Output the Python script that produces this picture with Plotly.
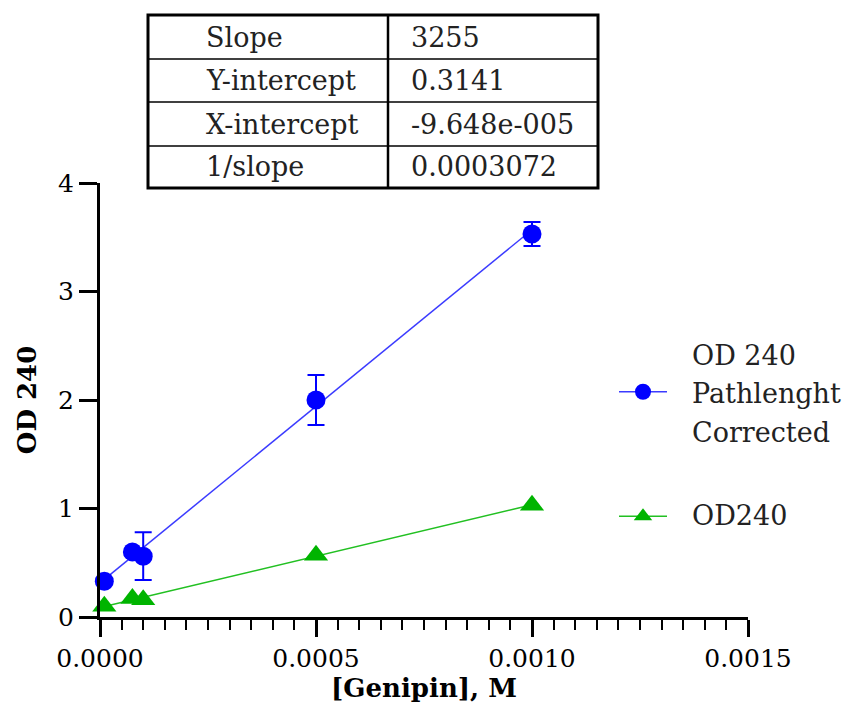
import numpy as np
import plotly.graph_objects as go

# Genipin concentration (M) and absorbance readings
genipin_m = [0.00001, 0.000075, 0.0001, 0.0005, 0.001]
od240_corrected = [0.33, 0.60, 0.56, 2.00, 3.53]
od240_corrected_sd = [0.0, 0.0, 0.22, 0.23, 0.11]
od240_raw = [0.10, 0.17, 0.16, 0.57, 1.03]

# Linear-regression summary for the pathlength-corrected series
fit_labels = ["Slope", "Y-intercept", "X-intercept", "1/slope"]
fit_values = ["3255", "0.3141", "-9.648e-005", "0.0003072"]
fit_slope = 3255
fit_intercept = 0.3141

# series names, one list entry per printed line
series_names = [["OD 240", "Pathlenght", "Corrected"], ["OD240"]]

FONT = "DejaVu Serif"
BLUE = "#0000ff"
BLUE_LINE = "#3b3bff"
GREEN = "#00b400"
GREEN_LINE = "#22c022"

# plot-area geometry in pixels (used to place the stats box / key in paper units)
W, H = 847, 726
L, R, T, B = 100, 748, 183, 617


def px(x):
    return (x - L) / (R - L)


def py(y):
    return (B - y) / (B - T)


x_fit = np.array([min(genipin_m), max(genipin_m)])
y_fit_blue = fit_intercept + fit_slope * x_fit
g_slope, g_int = np.polyfit(genipin_m, od240_raw, 1)
y_fit_green = g_int + g_slope * x_fit

fig = go.Figure()

# regression lines
fig.add_trace(go.Scatter(x=x_fit, y=y_fit_blue, mode="lines",
                         line=dict(color=BLUE_LINE, width=1.5),
                         showlegend=False, hoverinfo="skip", cliponaxis=False))
fig.add_trace(go.Scatter(x=x_fit, y=y_fit_green, mode="lines",
                         line=dict(color=GREEN_LINE, width=1.5),
                         showlegend=False, hoverinfo="skip", cliponaxis=False))

# data points
fig.add_trace(go.Scatter(
    x=genipin_m, y=od240_corrected, mode="markers", showlegend=False,
    name=" ".join(series_names[0]),
    marker=dict(symbol="circle", size=19, color=BLUE),
    error_y=dict(type="data", array=od240_corrected_sd, visible=True,
                 color=BLUE, thickness=2, width=8.5),
    cliponaxis=False,
))
fig.add_trace(go.Scatter(
    x=genipin_m, y=od240_raw, mode="markers", showlegend=False,
    name=" ".join(series_names[1]),
    marker=dict(symbol="triangle-up", size=21, color=GREEN),
    cliponaxis=False,
))

# legend glyphs (line + marker); the labels are set as text beside them
fig.add_trace(go.Scatter(
    x=[None], y=[None], mode="lines+markers", name=" ",
    legendgroup="a", line=dict(color=BLUE_LINE, width=1.5),
    marker=dict(symbol="circle", size=19, color=BLUE),
))
fig.add_trace(go.Scatter(
    x=[None], y=[None], mode="lines+markers", name=" ",
    legendgroup="b", line=dict(color=GREEN_LINE, width=1.5),
    marker=dict(symbol="triangle-up", size=21, color=GREEN),
))

# stats box
shapes = [
    dict(type="rect", xref="paper", yref="paper",
         x0=px(148), x1=px(598), y0=py(188), y1=py(15),
         line=dict(color="black", width=3)),
    dict(type="line", xref="paper", yref="paper",
         x0=px(388), x1=px(388), y0=py(188), y1=py(15),
         line=dict(color="black", width=2.5)),
]
row_edges = [15, 59, 102, 146, 188]
for yy in row_edges[1:-1]:
    shapes.append(dict(type="line", xref="paper", yref="paper",
                       x0=px(148), x1=px(598), y0=py(yy), y1=py(yy),
                       line=dict(color="black", width=1.5)))

annotations = []
for i, (lab, val) in enumerate(zip(fit_labels, fit_values)):
    yc = (row_edges[i] + row_edges[i + 1]) / 2
    annotations.append(dict(x=px(204), y=py(yc), xref="paper", yref="paper",
                            text=lab, showarrow=False, xanchor="left",
                            yanchor="middle",
                            font=dict(family=FONT, size=27, color="#222")))
    annotations.append(dict(x=px(409), y=py(yc), xref="paper", yref="paper",
                            text=val, showarrow=False, xanchor="left",
                            yanchor="middle",
                            font=dict(family=FONT, size=27, color="#222")))

# key labels, one line each
key_lines = series_names[0] + series_names[1]
key_rows = [355, 393, 432, 515]
for text, yy in zip(key_lines, key_rows):
    annotations.append(dict(x=px(690), y=py(yy), xref="paper", yref="paper",
                            text=text, showarrow=False, xanchor="left",
                            yanchor="middle",
                            font=dict(family=FONT, size=27, color="#222")))

fig.update_layout(
    width=W, height=H,
    margin=dict(l=L, r=W - R, t=T, b=H - B, pad=0),
    plot_bgcolor="white", paper_bgcolor="white",
    font=dict(family=FONT, size=25, color="black"),
    shapes=shapes, annotations=annotations,
    legend=dict(x=px(614), y=py(369), xanchor="left", yanchor="top",
                font=dict(family=FONT, size=25, color="#222"),
                traceorder="grouped", tracegroupgap=89,
                bgcolor="rgba(0,0,0,0)", itemwidth=48),
)

fig.update_xaxes(
    range=[0, 0.0015], dtick=0.0005, tickformat=".4f",
    showline=True, linecolor="black", linewidth=3,
    ticks="outside", ticklen=17, tickwidth=3, tickcolor="black",
    minor=dict(dtick=0.00005, ticks="outside", ticklen=10, tickwidth=2,
               tickcolor="black"),
    showgrid=False, zeroline=False,
    tickfont=dict(family=FONT, size=25, color="black"),
    title=dict(text="<b>[Genipin], M</b>", standoff=6,
               font=dict(family=FONT, size=26, color="black")),
)
fig.update_yaxes(
    range=[0, 4], dtick=1,
    showline=True, linecolor="black", linewidth=3,
    ticks="outside", ticklen=18, tickwidth=3, tickcolor="black",
    showgrid=False, zeroline=False,
    tickfont=dict(family=FONT, size=25, color="black"),
    title=dict(text="<b>OD 240</b>", standoff=14,
               font=dict(family=FONT, size=26, color="black")),
)

fig.write_html("out.html")
